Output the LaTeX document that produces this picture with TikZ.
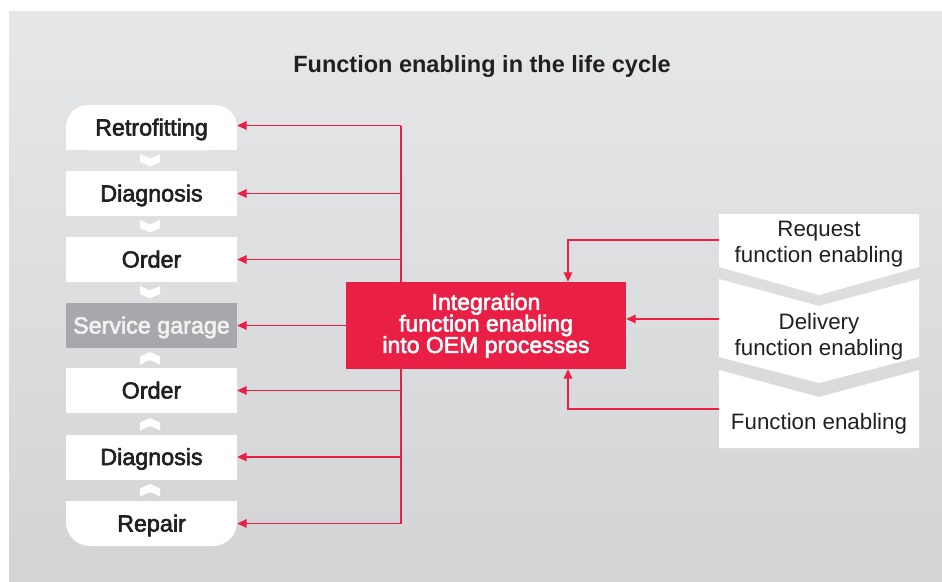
\documentclass[tikz,border=0pt]{standalone}
\usepackage{fontspec}
\setmainfont{Liberation Sans}
\newfontfamily\medfont[FakeBold=2.5]{Liberation Sans}
\usetikzlibrary{arrows.meta}
\definecolor{bgtop}{HTML}{E6E7E8}
\definecolor{bgbot}{HTML}{D3D4D6}
\definecolor{redc}{HTML}{EA1F45}
\definecolor{garage}{HTML}{A7A8AB}
\definecolor{ink}{HTML}{231F20}
\tikzset{
  lbox/.style={fill=white, minimum width=171pt, minimum height=45pt, inner sep=0pt,
    text height=16pt, text depth=0pt, text=ink, font=\medfont\fontsize{23.3}{26}\selectfont},
  rtext/.style={align=center, text=ink, inner sep=0pt, font=\fontsize{22.3}{26}\selectfont},
  rline/.style={draw=redc, line width=1.8pt},
  arr/.style={rline, -{Triangle[length=9.5pt,width=8.5pt]}},
  chevdn/.pic={\fill[white] (-10,-6.5) -- (0,-2) -- (10,-6.5) -- (10,1.5) -- (0,6) -- (-10,1.5) -- cycle;},
  chevup/.pic={\fill[white] (-10,6.5) -- (0,2) -- (10,6.5) -- (10,-1.5) -- (0,-6) -- (-10,-1.5) -- cycle;},
}
\begin{document}
\begin{tikzpicture}[x=1pt,y=-1pt]
\useasboundingbox (0,0) rectangle (942,581);
% panel
\shade[top color=bgtop, bottom color=bgbot] (9,11) rectangle (942,581);

% title
\node[text=ink, font=\bfseries\fontsize{23.5}{28}\selectfont] (title) at (482,66) {Function enabling in the life cycle};

% life cycle column: square off the lower corners of the first box and the upper corners of the last one
\fill[white] (66,127.5) rectangle (237,150);
\fill[white] (66,501) rectangle (237,523.5);
\node[lbox, rounded corners=22pt] (retro) at (151.5,127.5) {Retrofitting};
\node[lbox] (diag1) at (151.5,193.5) {Diagnosis};
\node[lbox] (ord1) at (151.5,259.5) {Order};
\node[lbox, fill=garage, text=white!95!black] (garage) at (151.5,325.5) {Service garage};
\node[lbox] (ord2) at (151.5,390.5) {Order};
\node[lbox] (diag2) at (151.5,457) {Diagnosis};
\node[lbox, rounded corners=24pt] (repair) at (151.5,523.5) {Repair};

\pic at (150,160.5) {chevdn};
\pic at (150,226.5) {chevdn};
\pic at (150,292.5) {chevdn};
\pic at (150,358) {chevup};
\pic at (150,424) {chevup};
\pic at (150,490) {chevup};

% central process
\node[fill=redc, minimum width=280pt, minimum height=87pt, inner sep=0pt, align=center,
  text=white, font=\medfont\fontsize{23}{21.5}\selectfont] (integ) at (486,325.5)
  {Integration\\function enabling\\into OEM processes};

% right-hand chevron stack
\fill[white] (719,214) -- (919,214) -- (919,267) -- (819,295) -- (719,267) -- cycle;
\fill[white] (719,279) -- (819,306) -- (919,279) -- (919,357) -- (819,383) -- (719,357) -- cycle;
\fill[white] (719,370) -- (819,397) -- (919,370) -- (919,448) -- (719,448) -- cycle;
\node[rtext] (req) at (819,244.5) {Request\\function enabling};
\node[rtext] (deliv) at (819,336.5) {Delivery\\function enabling};
\node[rtext] (fen) at (819,424) {Function enabling};

% connectors
\coordinate (busx) at (401,0);
\coordinate (reqin) at (719,240);
\coordinate (delin) at (719,319);
\coordinate (fenin) at (719,409);

\draw[rline] ([yshift=2pt]retro.east -| busx) -- (integ.north -| busx);
\draw[rline] (integ.south -| busx) -- (repair.east -| busx);
\draw[arr] ([yshift=2pt]retro.east -| busx) -- ([yshift=2pt]retro.east);
\foreach \n in {diag1,ord1,ord2,diag2,repair}
  \draw[arr] (\n.east -| busx) -- (\n.east);
\draw[arr] (integ.west) -- (garage.east);

\draw[arr] (reqin) -| ([xshift=82pt]integ.north);
\draw[arr] (delin) -- (delin -| integ.east);
\draw[arr] (fenin) -| ([xshift=82pt]integ.south);
\end{tikzpicture}
\end{document}
